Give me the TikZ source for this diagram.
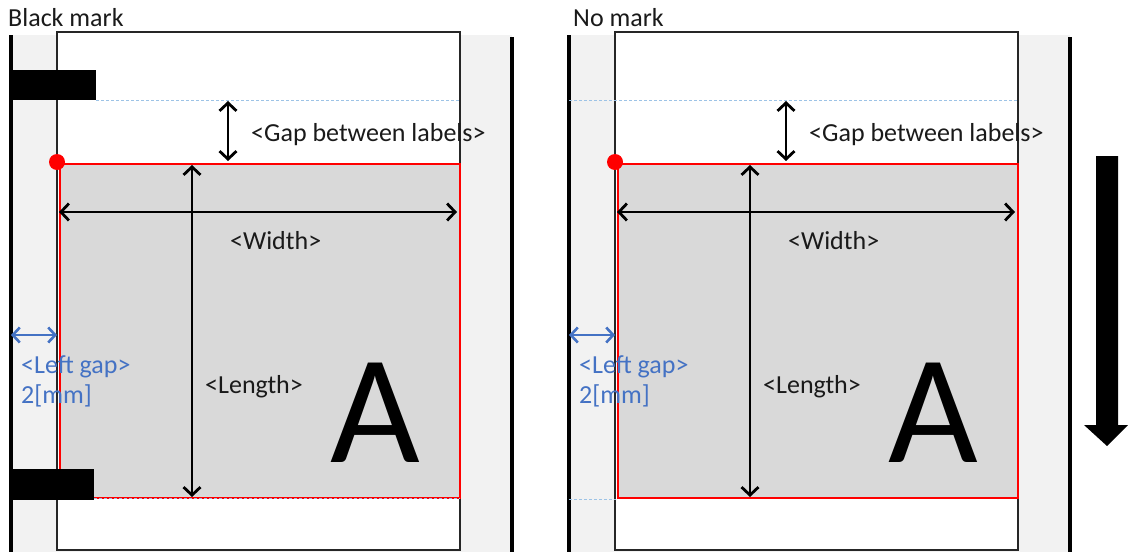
\documentclass[tikz,border=0pt]{standalone}
\usepackage{fontspec}
\setmainfont{Carlito}
\usetikzlibrary{arrows.meta}
\definecolor{band}{HTML}{F2F2F2}
\definecolor{lab}{HTML}{D9D9D9}
\definecolor{gapblue}{HTML}{4472C4}
\definecolor{dashblue}{HTML}{9DC3E6}
\definecolor{txt}{HTML}{1A1A1A}
\begin{document}
\begin{tikzpicture}[x=1pt,y=-1pt,
  rail/.style={line width=3.2pt, draw=black},
  paper/.style={fill=white, draw=black!85, line width=1.6pt},
  labelbox/.style={fill=lab, draw=red, line width=1.8pt},
  dim/.style={line width=2.8pt, draw=black, {Straight Barb[length=8pt,width=17pt]}-{Straight Barb[length=8pt,width=17pt]}},
  leftdim/.style={line width=2.6pt, draw=gapblue, {Straight Barb[length=7pt,width=15pt]}-{Straight Barb[length=7pt,width=15pt]}},
  guide/.style={draw=dashblue, line width=1pt, dash pattern=on 3pt off 2pt},
  blackmark/.style={fill=black, inner sep=0pt, anchor=north west},
  txtlab/.style={inner sep=0pt, anchor=base west, text=txt, font=\fontsize{26}{30}\selectfont},
  bluelab/.style={inner sep=0pt, anchor=base west, text=gapblue, font=\fontsize{26}{30}\selectfont},
  bigA/.style={inner sep=0pt, anchor=base west, text=black, font=\fontsize{155}{160}\selectfont},
  origin/.style={circle, fill=red, inner sep=0pt, minimum size=16pt}
]
\useasboundingbox (0,0) rectangle (1128,552);
\foreach \p/\s in {L/0,R/558}{
\begin{scope}[xshift=\s, name prefix=\p-]
  % background band
  \fill[band] (11,35) rectangle (512,552);
  % paper
  \draw[paper] (57,32) rectangle (460,550);
  % rails
  \coordinate (railLT) at (11,35);
  \coordinate (railLB) at (11,552);
  \coordinate (railRT) at (512,37);
  \coordinate (railRB) at (512,552);
  \draw[rail] (railLT) -- (railLB);
  \draw[rail] (railRT) -- (railRB);
  % label
  \node[labelbox, inner sep=0pt, minimum width=400pt, minimum height=334pt, anchor=north west] (label) at (59,163) {};
  % dimension coordinates
  \coordinate (gapT) at (228,101);
  \coordinate (gapB) at (228,161);
  \coordinate (wL) at (59,212);
  \coordinate (wR) at (457,212);
  \coordinate (lT) at (192,165);
  \coordinate (lB) at (192,497);
  \coordinate (lgL) at (11,335);
  \coordinate (lgR) at (57,335);
  \draw[dim] (gapT) -- (gapB);
  \draw[dim] (wL) -- (wR);
  \draw[dim] (lT) -- (lB);
  \draw[leftdim] (lgL) -- (lgR);
  \node[origin] (org) at (57,162) {};
  \node[txtlab] (gaptext) at (251,141) {<Gap between labels>};
  \node[txtlab] (wtext) at (230,249) {<Width>};
  \node[txtlab] (ltext) at (205,393) {<Length>};
  \node[bluelab] (lgtext) at (21,373) {<Left gap>};
  \node[bluelab] (lgval) at (21,403) {2[mm]};
  \node[bigA] (A) at (330,462) {A};
\end{scope}
}
% left panel specifics
\coordinate (L-g1a) at (96,100);
\coordinate (L-g1b) at (460,100);
\coordinate (L-g2a) at (94,498);
\coordinate (L-g2b) at (460,498);
\draw[guide] (L-g1a) -- (L-g1b);
\draw[guide] (L-g2a) -- (L-g2b);
\node[blackmark, minimum width=85pt, minimum height=30pt] (L-mark1) at (11,70) {};
\node[blackmark, minimum width=83pt, minimum height=31pt] (L-mark2) at (11,469) {};
\node[txtlab] (L-title) at (8,26) {Black mark};
% right panel specifics
\coordinate (R-g1a) at (569,100);
\coordinate (R-g1b) at (1018,100);
\coordinate (R-g2a) at (569,499);
\coordinate (R-g2b) at (616,499);
\draw[guide] (R-g1a) -- (R-g1b);
\draw[guide] (R-g2a) -- (R-g2b);
\node[txtlab] (R-title) at (573,26) {No mark};
% feed direction arrow
\fill[black] (1096,156) -- (1118,156) -- (1118,425) -- (1128,425) -- (1107,446) -- (1084,425) -- (1096,425) -- cycle;
\end{tikzpicture}
\end{document}
